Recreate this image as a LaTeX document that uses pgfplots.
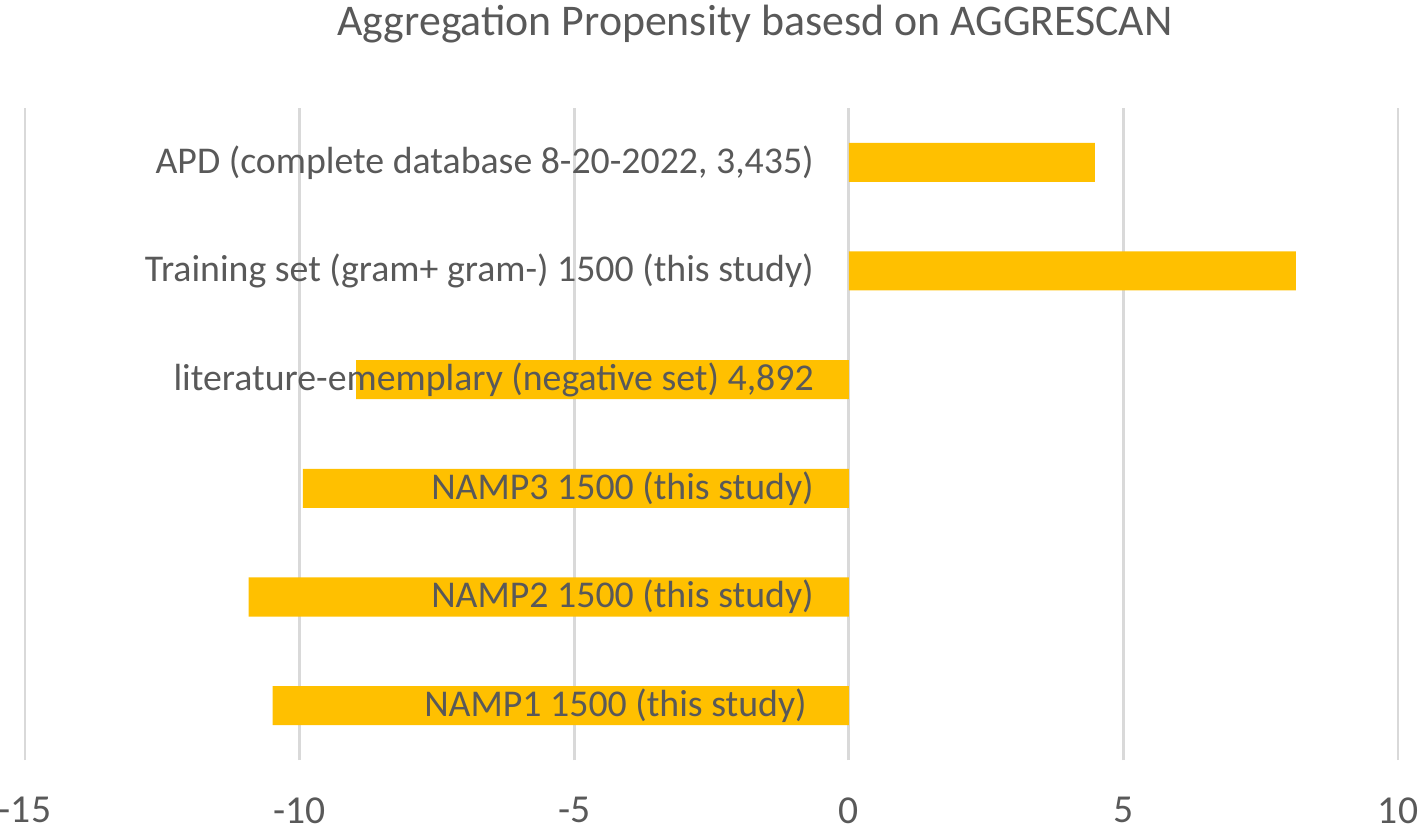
\documentclass[border=0pt]{standalone}
\usepackage{pgfplots}
\pgfplotsset{compat=1.18}
\usepackage{fontspec}
\setmainfont{Carlito}
\definecolor{txt}{HTML}{595959}
\definecolor{gridc}{HTML}{D9D9D9}
\definecolor{barc}{HTML}{FFC000}
\pgfplotsset{
 layers/mine/.define layer set={axis background,axis grid,axis ticks,axis lines,pre main,main,axis tick labels,axis descriptions,axis foreground}{
  grid style={/pgfplots/on layer=axis grid},
  tick style={/pgfplots/on layer=axis ticks},
  axis line style={/pgfplots/on layer=axis lines},
  label style={/pgfplots/on layer=axis descriptions},
  title style={/pgfplots/on layer=axis descriptions},
  ticklabel style={/pgfplots/on layer=axis tick labels},
 },
}
\begin{document}
\begin{tikzpicture}
\begin{axis}[
 set layers=mine,
 at={(0,0)}, anchor=south west,
 width=686.5bp, height=326bp, scale only axis,
 xmin=-15, xmax=10, ymin=-0.5, ymax=5.5,
 xtick={-15,-10,-5,0,5,10},
 xticklabels={-15,-10,-5,0,5,10},
 ytick={0,1,2,3,4,5},
 yticklabels={NAMP1 1500 (this study)\hspace*{3.5bp},NAMP2 1500 (this study),NAMP3 1500 (this study),literature-ememplary (negative set) 4{,}892,Training set (gram+ gram-) 1500 (this study),{APD (complete database 8-20-2022, 3,435)}},
 axis line style={draw=none},
 major tick length=0pt,
 xmajorgrids, ymajorgrids=false,
 major grid style={draw=gridc, line width=1.4bp},
 xticklabel style={anchor=north, inner sep=0pt, yshift=-18.5bp, font=\fontsize{19.8bp}{24bp}\selectfont, text=txt},
 yticklabel style={anchor=east, inner sep=0pt, xshift=394.5bp, font=\fontsize{18.9bp}{23bp}\selectfont, text=txt},
 title={Aggregation Propensity basesd on AGGRESCAN},
 title style={at={(axis description cs:0.5317,1)}, anchor=base, inner sep=0pt, yshift=30.5bp, font=\fontsize{21.9bp}{26bp}\selectfont, text=txt},
]
\addplot[xbar, bar width=19.5bp, fill=barc, draw=none] coordinates {
 (-10.49,0) (-10.93,1) (-9.94,2) (-8.97,3) (8.14,4) (4.48,5)
};
\end{axis}
\pgfresetboundingbox
\useasboundingbox (-12.5bp,-36.5bp) rectangle (696.5bp,380bp);
\end{tikzpicture}
\end{document}
